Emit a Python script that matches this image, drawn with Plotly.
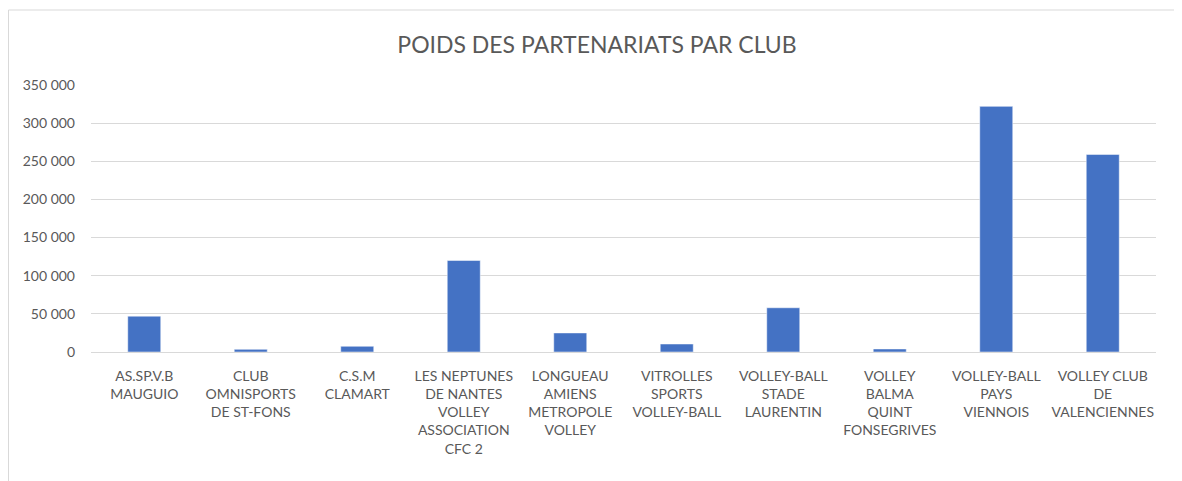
import plotly.graph_objects as go

clubs = [
    "AS.SP.V.B<br>MAUGUIO",
    "CLUB<br>OMNISPORTS<br>DE ST-FONS",
    "C.S.M<br>CLAMART",
    "LES NEPTUNES<br>DE NANTES<br>VOLLEY<br>ASSOCIATION<br>CFC 2",
    "LONGUEAU<br>AMIENS<br>METROPOLE<br>VOLLEY",
    "VITROLLES<br>SPORTS<br>VOLLEY-BALL",
    "VOLLEY-BALL<br>STADE<br>LAURENTIN",
    "VOLLEY<br>BALMA<br>QUINT<br>FONSEGRIVES",
    "VOLLEY-BALL<br>PAYS<br>VIENNOIS",
    "VOLLEY CLUB<br>DE<br>VALENCIENNES",
]
values = [47000, 3500, 7500, 120000, 25000, 10500, 58000, 4000, 322000, 259000]
y_ticks = [0, 50000, 100000, 150000, 200000, 250000, 300000, 350000]

FONT = "Lato"
GREY = "#595959"

# page body has an 8px margin; positions below are in figure pixels
OFF = 8
W, H = 1182, 481
L = 91 - OFF
T = 85 - OFF
R = W - (1156 - OFF)
B = H - (352 - OFF)
pw, ph = W - L - R, H - T - B

def px_x(p):
    return (p - OFF - L) / pw

def px_y(p):
    return (H - B - (p - OFF)) / ph

fig = go.Figure(go.Bar(
    x=clubs, y=values,
    marker=dict(color="#4472C4", line=dict(color="#ffffff", width=0.5)),
    width=0.31,
))

fig.update_layout(
    width=W, height=H,
    margin=dict(l=L, r=R, t=T, b=B),
    paper_bgcolor="white", plot_bgcolor="white",
    separators=", ",
    showlegend=False,
    font=dict(family=FONT, color=GREY, size=14),
    title=dict(text="POIDS DES PARTENARIATS PAR CLUB", x=(597 - OFF) / W, xref="container",
               xanchor="center", y=1 - (45 - OFF) / H, yanchor="middle",
               font=dict(family=FONT, size=23, color=GREY)),
    xaxis=dict(showgrid=False, showline=True, linecolor="#d9d9d9", linewidth=1,
               ticks="", tickfont=dict(size=14, color=GREY), tickangle=0,
               ticklabelstandoff=11),
    yaxis=dict(range=[0, 350000], tickvals=y_ticks, tickformat=",d",
               showgrid=True, gridcolor="#d9d9d9", gridwidth=1,
               zeroline=False, showline=False, ticks="",
               ticklabelstandoff=15,
               tickfont=dict(size=14, color=GREY)),
    shapes=[dict(type="rect", xref="paper", yref="paper",
                 x0=px_x(8.5), x1=px_x(1176), y0=px_y(540), y1=px_y(10),
                 line=dict(color="#d9d9d9", width=1), fillcolor="rgba(0,0,0,0)",
                 layer="below")],
)

fig.write_html("out.html")
